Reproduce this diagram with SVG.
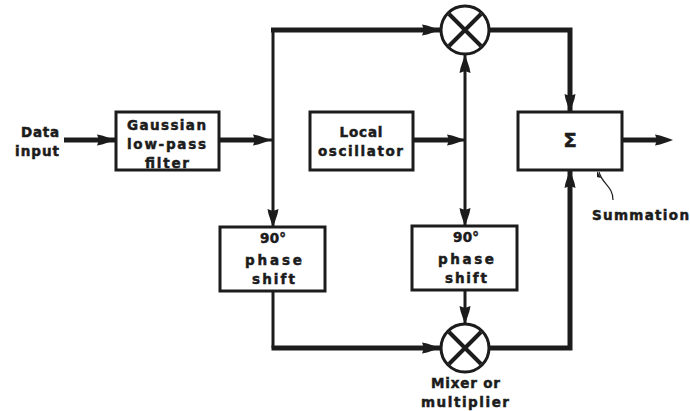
<svg xmlns="http://www.w3.org/2000/svg" width="690" height="411" viewBox="0 0 690 411">
<style>
.box{fill:#fff;stroke:#1c1c1c;stroke-width:3}
.mix{fill:#fff;stroke:#1c1c1c;stroke-width:3}
.x{stroke:#1c1c1c;stroke-width:4;fill:none}
.w{fill:none;stroke:#1c1c1c;stroke-width:3;stroke-linejoin:miter}
.t{fill:none;stroke:#1c1c1c;stroke-width:5;stroke-linejoin:miter}
.n{fill:none;stroke:#1c1c1c;stroke-width:1.2}
text{font-family:"DejaVu Sans",sans-serif;font-weight:700;font-size:13.5px;fill:#1c1c1c;text-anchor:middle;stroke:#1c1c1c;stroke-width:.5;lengthAdjust:spacing}
</style>
<defs>
<path id="ah" fill="#1c1c1c" d="M-15-5.5 L-10-4.5 L-1-1.5 L3 0 L-1 1.5 L-10 4.5 L-15 5.5 L-13 0Z"/>
</defs>
<g id="connectors">
<path class="t" d="M64 140H116"/>
<path class="t" d="M219 140H262"/>
<path class="w" d="M262 140H273"/>
<path class="w" d="M273 227V30"/>
<path class="t" d="M271 30H441"/>
<path class="w" d="M465 54V226"/>
<path class="t" d="M413 140H455"/>
<path class="w" d="M455 140H465"/>
<path class="t" d="M489 30H570V112"/>
<path class="t" d="M622 140H665"/>
<path class="w" d="M273 291V348"/>
<path class="t" d="M271.500 348H441"/>
<path class="t" d="M489 348H570V170"/>
<path class="w" d="M465 290V324"/>
<path class="n" d="M599 172C602 184 613 186 613 200"/>
<use href="#ah" transform="translate(112 140)"/>
<use href="#ah" transform="translate(268 140)"/>
<use href="#ah" transform="translate(273 224) rotate(90)"/>
<use href="#ah" transform="translate(437 30)"/>
<use href="#ah" transform="translate(465 58) rotate(-90)"/>
<use href="#ah" transform="translate(462 140)"/>
<use href="#ah" transform="translate(465 223) rotate(90)"/>
<use href="#ah" transform="translate(570 109) rotate(90)"/>
<use href="#ah" transform="translate(670 140)"/>
<use href="#ah" transform="translate(570 173) rotate(-90)"/>
<use href="#ah" transform="translate(465 321) rotate(90)"/>
<use href="#ah" transform="translate(437 348)"/>
<path fill="#1c1c1c" d="M597 171L601 178L597 177Z"/>
</g>
<g id="data-input">
<text x="40" y="137" textLength="38">Data</text>
<text x="37" y="156" textLength="44">input</text>
</g>
<g id="gaussian-filter">
<rect class="box" x="116" y="112" width="103" height="58"/>
<text x="166.500" y="130" textLength="79">Gaussian</text>
<text x="166.500" y="149" textLength="79">low-pass</text>
<text x="167" y="168" textLength="44">filter</text>
</g>
<g id="phase-shift-left">
<rect class="box" x="220" y="227" width="105" height="64"/>
<text x="273" y="243" textLength="26">90°</text>
<text x="273.500" y="265" textLength="57">phase</text>
<text x="273.500" y="284" textLength="43">shift</text>
</g>
<g id="local-oscillator">
<rect class="box" x="310" y="112" width="103" height="58"/>
<text x="361" y="137" textLength="43">Local</text>
<text x="360.500" y="156" textLength="85">oscillator</text>
</g>
<g id="phase-shift-right">
<rect class="box" x="412" y="226" width="105" height="64"/>
<text x="466" y="242" textLength="26">90°</text>
<text x="466" y="264" textLength="56">phase</text>
<text x="466" y="283" textLength="42">shift</text>
</g>
<g id="summation">
<rect class="box" x="518" y="112" width="104" height="58"/>
<text x="570" y="147" style="font-size:20px">Σ</text>
<text x="640.500" y="220" textLength="97">Summation</text>
</g>
<g id="mixer-top">
<circle class="mix" cx="465" cy="30" r="24"/>
<path class="x" d="M449 14L481 46M481 14L449 46"/>
</g>
<g id="mixer-bottom">
<circle class="mix" cx="465" cy="348" r="24"/>
<path class="x" d="M449 332L481 364M481 332L449 364"/>
<text x="465.500" y="388" textLength="69">Mixer or</text>
<text x="465" y="407" textLength="88">multiplier</text>
</g>
</svg>
